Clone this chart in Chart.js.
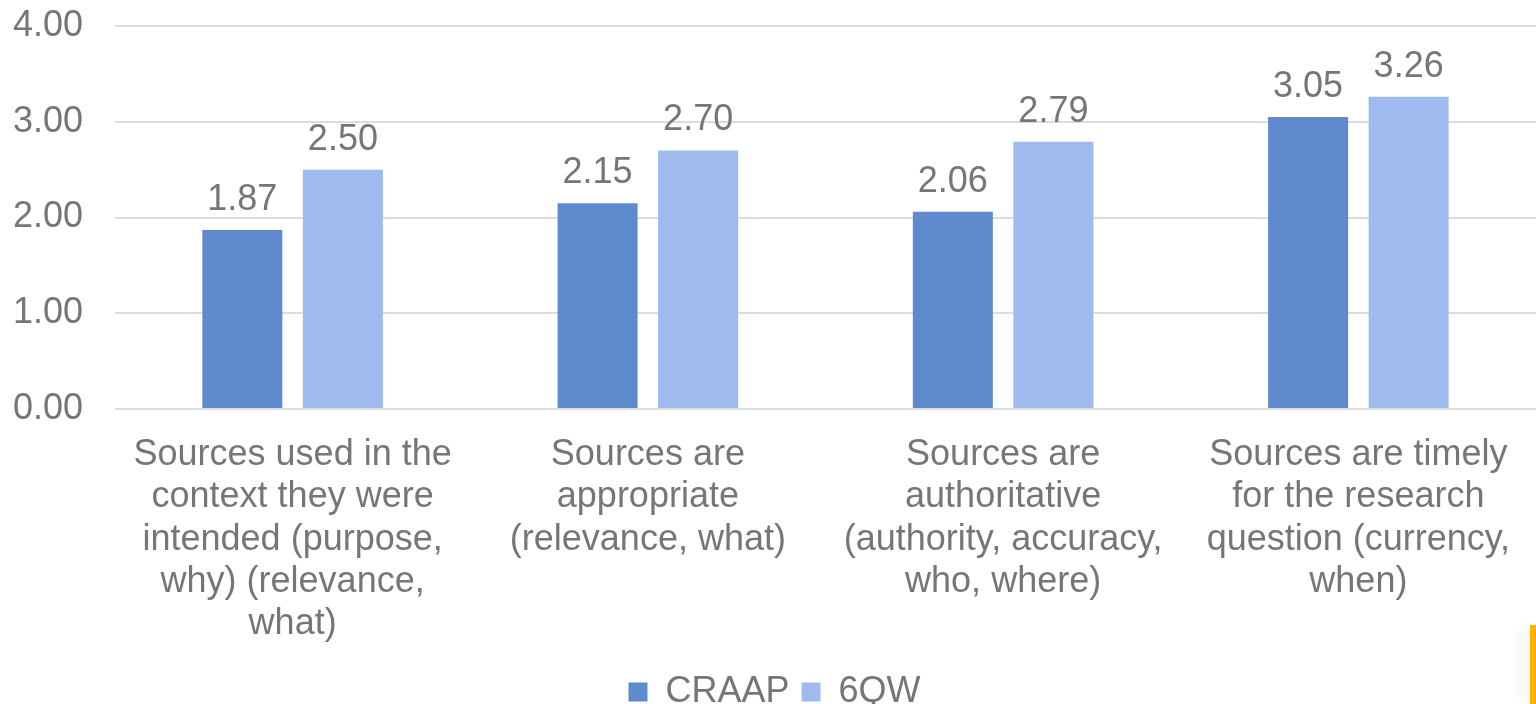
<!DOCTYPE html>
<html>
<head>
<meta charset="utf-8">
<script src="https://cdn.jsdelivr.net/npm/chart.js@4.4.1/dist/chart.umd.min.js"></script>
<style>
  body { margin: 0; background: #ffffff; }
  #wrap { position: relative; width: 1536px; height: 704px; overflow: hidden; }
  #marca { position: absolute; left: 1530px; top: 625px; width: 6px; height: 79px; background: #ffb000; box-shadow: -8px 0 14px rgba(0,0,0,0.08); }
</style>
</head>
<body>
<div id="wrap">
  <canvas id="myChart" width="1536" height="704"></canvas>
  <div id="marca"></div>
</div>
<script>
// ###### datos del grafico ######
const categorias = [
  ["Sources used in the", "context they were", "intended (purpose,", "why) (relevance,", "what)"],
  ["Sources are", "appropriate", "(relevance, what)"],
  ["Sources are", "authoritative", "(authority, accuracy,", "who, where)"],
  ["Sources are timely", "for the research", "question (currency,", "when)"]
];
const valoresCRAAP = [1.87, 2.15, 2.06, 3.05];
const valores6QW = [2.50, 2.70, 2.79, 3.26];
const ticksY = [0, 1, 2, 3, 4];

const grisTexto = "#767676";
const fuente = "'Liberation Sans', Arial, sans-serif";

// plugin simple para poner el valor arriba de cada barra
const etiquetasBarras = {
  id: "etiquetasBarras",
  afterDatasetsDraw(chart) {
    const ctx = chart.ctx;
    ctx.save();
    ctx.font = "36px " + fuente;
    ctx.fillStyle = grisTexto;
    ctx.textAlign = "center";
    ctx.textBaseline = "alphabetic";
    chart.data.datasets.forEach((ds, i) => {
      chart.getDatasetMeta(i).data.forEach((bar, j) => {
        ctx.fillText(ds.data[j].toFixed(2), bar.x, bar.y - 20);
      });
    });
    ctx.restore();
  }
};

const config = {
  type: "bar",
  data: {
    labels: categorias,
    datasets: [
      { label: "CRAAP", data: valoresCRAAP, backgroundColor: "#5f8bce" },
      { label: "6QW", data: valores6QW, backgroundColor: "#9fbaef" }
    ]
  },
  options: {
    responsive: false,
    devicePixelRatio: 1,
    animation: false,
    layout: { padding: { left: 13, right: 0, top: 26, bottom: -16 } },
    datasets: { bar: { categoryPercentage: 0.566, barPercentage: 0.796 } },
    scales: {
      y: {
        min: 0,
        max: 4,
        afterBuildTicks: (scale) => { scale.ticks = ticksY.map((v) => ({ value: v })); },
        afterFit: (scale) => {
          scale.width = 102;
          scale.paddingTop = 0;
          scale.paddingBottom = 0;
        },
        ticks: {
          padding: 32,
          color: grisTexto,
          font: { size: 36, family: fuente },
          callback: (v) => Number(v).toFixed(2)
        },
        grid: { color: "#dcdcdc", lineWidth: 2, drawTicks: false },
        border: { display: false }
      },
      x: {
        afterFit: (scale) => {
          scale.height = 253;
          scale.paddingLeft = 0;
          scale.paddingRight = 0;
        },
        ticks: {
          padding: 25,
          color: grisTexto,
          maxRotation: 0,
          autoSkip: false,
          font: { size: 36, family: fuente, lineHeight: 1.175 }
        },
        grid: { display: false, drawTicks: false },
        border: { display: false }
      }
    },
    plugins: {
      legend: {
        position: "bottom",
        labels: {
          boxWidth: 19,
          boxHeight: 19,
          padding: 12,
          color: grisTexto,
          font: { size: 36, family: fuente }
        }
      },
      tooltip: { enabled: false }
    }
  },
  plugins: [etiquetasBarras]
};

const myChart = new Chart(document.getElementById("myChart"), config);
</script>
</body>
</html>
